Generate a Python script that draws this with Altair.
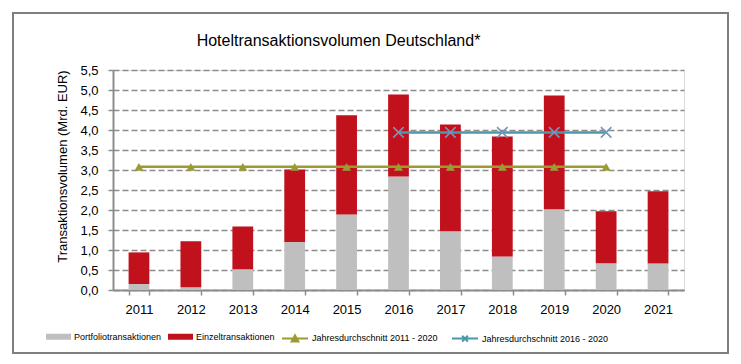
import altair as alt
import pandas as pd

# ---------------- data ----------------
years = ["2011", "2012", "2013", "2014", "2015", "2016", "2017", "2018", "2019", "2020", "2021"]
portfolio = [0.15, 0.07, 0.52, 1.20, 1.89, 2.84, 1.47, 0.84, 2.02, 0.67, 0.66]
einzel = [0.79, 1.15, 1.07, 1.81, 2.48, 2.05, 2.67, 3.00, 2.84, 1.30, 1.81]

bar_types = ["Portfoliotransaktionen", "Einzeltransaktionen"]
bar_colors = ["#bfbfbf", "#c0111c"]

line_names = ["Jahresdurchschnitt 2011 - 2020", "Jahresdurchschnitt 2016 - 2020"]
line_colors = ["#9b9b2f", "#4b98aa"]
avg_2011_2020_years = years[0:10]
avg_2011_2020 = 3.08
avg_2016_2020_years = years[5:10]
avg_2016_2020 = 3.94

y_ticks = [0, 0.5, 1, 1.5, 2, 2.5, 3, 3.5, 4, 4.5, 5, 5.5]

# ---------------- tables ----------------
rows = []
for i, yr in enumerate(years):
    rows.append({"Jahr": yr, "Typ": bar_types[0], "Wert": portfolio[i], "ord": 0})
    rows.append({"Jahr": yr, "Typ": bar_types[1], "Wert": einzel[i], "ord": 1})
bars_df = pd.DataFrame(rows)

l1 = pd.DataFrame({"Jahr": avg_2011_2020_years, "Wert": [avg_2011_2020] * len(avg_2011_2020_years),
                   "Linie": line_names[0]})
l2 = pd.DataFrame({"Jahr": avg_2016_2020_years, "Wert": [avg_2016_2020] * len(avg_2016_2020_years),
                   "Linie": line_names[1]})
lines_df = pd.concat([l1, l2], ignore_index=True)

W, H = 571, 220
FONT = "Liberation Sans, Arial"
GRAY = "#8c8c8c"

x_enc = alt.X(
    "Jahr:O",
    scale=alt.Scale(domain=years, paddingInner=0.6, paddingOuter=0.3),
    axis=alt.Axis(title=None, tickBand="extent", labelAngle=0, labelFont=FONT,
                  labelFontSize=13, labelColor="black", labelPadding=8, tickSize=5,
                  tickColor=GRAY, tickWidth=1.5, domainColor=GRAY, domainWidth=2, grid=False),
)
y_axis = alt.Axis(
    title="Transaktionsvolumen (Mrd. EUR)", values=y_ticks,
    labelExpr="replace(format(datum.value, '.1f'), '.', ',')",
    labelFont=FONT, labelFontSize=13, labelColor="black", labelPadding=10,
    tickSize=5, tickColor=GRAY, tickWidth=1.5, domainColor=GRAY, domainWidth=2,
    grid=True, gridColor=GRAY, gridDash=[6, 3], gridWidth=1.6,
    titleFont=FONT, titleFontSize=13, titleFontWeight="normal",
    titleColor="black", titlePadding=10, titleY=96,
)
y_scale = alt.Scale(domain=[0, 5.5], nice=False)

border = alt.Chart(pd.DataFrame({"k": [0]})).mark_rect(
    fillOpacity=0, stroke="#7f7f7f", strokeWidth=2
).encode(
    x=alt.value(-100), x2=alt.value(W + 44), y=alt.value(-57), y2=alt.value(H + 63)
)

bars = alt.Chart(bars_df).mark_bar().encode(
    x=x_enc,
    y=alt.Y("Wert:Q", stack="zero", scale=y_scale, axis=y_axis),
    color=alt.Color(
        "Typ:N",
        scale=alt.Scale(domain=bar_types, range=bar_colors),
        legend=alt.Legend(
            title=None, orient="none", legendX=-67, legendY=254, direction="horizontal",
            columns=2, symbolType="M-1,-0.24H1V0.24H-1Z", symbolSize=625,
            symbolStrokeWidth=0, labelFont=FONT, labelFontSize=9, labelColor="black",
            labelOffset=3, columnPadding=6, padding=0, labelLimit=300,
        ),
    ),
    order=alt.Order("ord:Q", sort="ascending"),
)

line_legend = alt.Legend(
    title=None, orient="none", legendX=168, legendY=254, direction="horizontal",
    columns=2, symbolSize=676, symbolStrokeWidth=2, labelFont=FONT, labelFontSize=9,
    labelColor="black", labelOffset=3, columnPadding=10, padding=0, labelLimit=300,
)
stroke_scale = alt.Scale(domain=line_names, range=line_colors)

lines = alt.Chart(lines_df).mark_line(strokeWidth=2.5).encode(
    x=x_enc,
    y=alt.Y("Wert:Q", scale=y_scale, axis=y_axis),
    stroke=alt.Stroke("Linie:N", scale=stroke_scale, legend=line_legend),
)

tri = alt.Chart(l1).mark_point(shape="triangle-up", filled=True, size=80,
                               color="#9b9b35", opacity=1).encode(
    x=x_enc, y=alt.Y("Wert:Q", scale=y_scale, axis=y_axis)
)
crs = alt.Chart(l2).mark_point(shape="M-1,-1L1,1M-1,1L1,-1", filled=False, size=110,
                               stroke="#7596bb", strokeWidth=1.6, opacity=1).encode(
    x=x_enc, y=alt.Y("Wert:Q", scale=y_scale, axis=y_axis)
)

legend_shapes = [
    "M-1,0H1M-0.26,0.24L0,-0.24L0.26,0.24Z",
    "M-1,0H1M-0.22,-0.22L0.22,0.22M-0.22,0.22L0.22,-0.22",
]
dummy = alt.Chart(lines_df).mark_point(filled=True, opacity=1).encode(
    stroke=alt.Stroke("Linie:N", scale=stroke_scale, legend=line_legend),
    fill=alt.Fill("Linie:N", scale=alt.Scale(domain=line_names, range=line_colors), legend=line_legend),
    shape=alt.Shape("Linie:N", scale=alt.Scale(domain=line_names, range=legend_shapes), legend=line_legend),
).transform_filter("false")

chart = alt.layer(border, bars, lines, tri, crs, dummy).properties(
    width=W, height=H, padding=4,
    title=alt.TitleParams(
        "Hoteltransaktionsvolumen Deutschland*", font=FONT, fontSize=16,
        fontWeight="normal", color="black", anchor="middle", frame="group",
        offset=-50, baseline="alphabetic", dx=-60,
    ),
).configure_view(stroke=None).configure(background="white")

chart.save("out.html", embed_options={"renderer": "svg", "actions": False})
